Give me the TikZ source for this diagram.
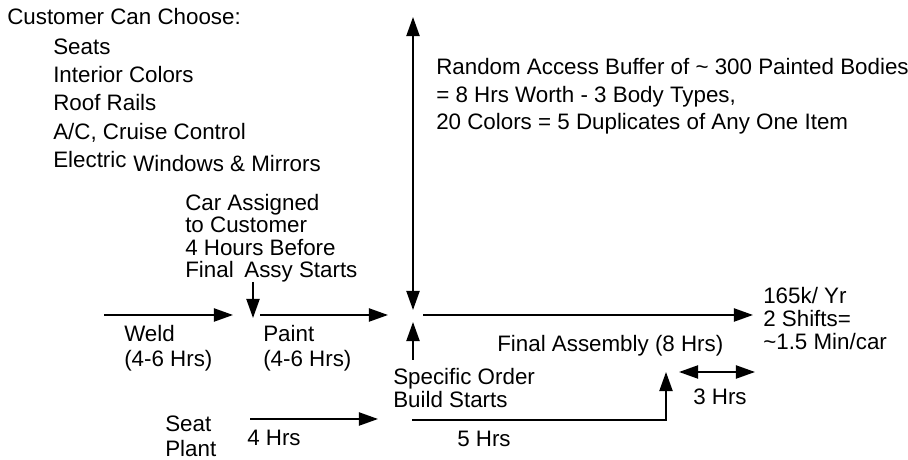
\documentclass[tikz,border=0pt]{standalone}
\usepackage{fontspec}
\setmainfont{Liberation Sans}
\usetikzlibrary{arrows.meta}

\begin{document}
\begin{tikzpicture}[
    font=\fontsize{15.9}{19.9}\selectfont,
    tag/.style={anchor=base west, inner sep=0pt, align=left},
    flow/.style={line width=1.3pt, -{Triangle[length=0.48cm, width=0.33cm]}},
    twoway/.style={line width=1.3pt,
                   {Triangle[length=0.48cm, width=0.33cm]}-{Triangle[length=0.48cm, width=0.33cm]}}
  ]
    \useasboundingbox (0,0) rectangle (22.7,11.5);

    % options list, top left
    \node[tag] (choose) at (0.175,10.875) {Customer Can Choose:};
    \node[tag] (seats) at (1.325,10.125) {Seats};
    \node[tag] (colors) at (1.325,9.425) {Interior Colors};
    \node[tag] (rails) at (1.325,8.725) {Roof Rails};
    \node[tag] (cruise) at (1.325,8.0) {A/C, Cruise Control};
    \node[tag] (electric) at (1.325,7.3) {Electric};
    \node[tag] (windows) at (3.325,7.2) {Windows \& Mirrors};

    % multi-line tags sit on their last baseline
    \node[tag] (buffer) at (10.9,8.25)
      {Random Access Buffer of \textasciitilde{} 300 Painted Bodies\\
       = 8 Hrs Worth - 3 Body Types,\\
       20 Colors = 5 Duplicates of Any One Item};

    \node[tag, font=\fontsize{15.9}{16.1}\selectfont] (assigned) at (4.625,4.55)
      {Car Assigned\\ to Customer\\ 4 Hours Before\\ Final\hspace{0.2em} Assy Starts};

    % main line
    \coordinate (weldin) at (2.6,3.625);
    \coordinate (weldout) at (5.825,3.625);
    \coordinate (paintin) at (6.5,3.625);
    \coordinate (paintout) at (9.7,3.625);
    \coordinate (finalin) at (10.575,3.625);
    \coordinate (finalout) at (18.825,3.625);
    \draw[flow] (weldin) -- (weldout);
    \draw[flow] (paintin) -- (paintout);
    \draw[flow] (finalin) -- (finalout);

    \node[tag, font=\fontsize{15.9}{17.8}\selectfont] (weld) at (3.1,2.325)
      {Weld\\ (4-6 Hrs)};
    \node[tag, font=\fontsize{15.9}{17.8}\selectfont] (paint) at (6.575,2.325)
      {Paint\\ (4-6 Hrs)};
    \node[tag] (final) at (12.425,2.7) {Final Assembly (8 Hrs)};
    \node[tag, font=\fontsize{15.9}{16.7}\selectfont] (rate) at (19.075,2.75)
      {165k/ Yr\\ 2 Shifts=\\ \textasciitilde1.5 Min/car};

    % car assigned to customer
    \coordinate (assigntop) at (6.325,4.45);
    \coordinate (assigntip) at (5.0,3.55);
    \draw[flow] (assigntop) -- (assigntop |- assigntip);

    % buffer, both ways
    \coordinate (buftop) at (10.325,11.075);
    \coordinate (bufbottom) at (10.325,3.75);
    \draw[twoway] (bufbottom) -- (buftop);

    % order starts
    \node[tag, font=\fontsize{15.9}{16.4}\selectfont] (order) at (9.825,1.3)
      {Specific Order\\ Build Starts};
    \coordinate (ordertail) at (10.325,2.5);
    \coordinate (orderhead) at (10.325,3.45);
    \draw[flow] (ordertail) -- (orderhead);

    % seat plant feed
    \node[tag, font=\fontsize{15.9}{17.8}\selectfont] (seatplant) at (4.125,0.075)
      {Seat\\ Plant};
    \coordinate (seatin) at (6.25,1.025);
    \coordinate (seatout) at (9.45,1.025);
    \draw[flow] (seatin) -- (seatout);
    \node[tag] (fourhrs) at (6.175,0.35) {4 Hrs};

    \coordinate (buildin) at (10.3,1.0);
    \coordinate (seatdrop) at (16.65,2.2);
    \draw[flow] (buildin) -| (seatdrop);
    \node[tag] (fivehrs) at (11.425,0.325) {5 Hrs};

    \coordinate (gapleft) at (16.975,2.2);
    \coordinate (gapright) at (18.875,2.2);
    \draw[twoway] (gapleft) -- (gapright);
    \node[tag] (threehrs) at (17.325,1.375) {3 Hrs};
  \end{tikzpicture}
\end{document}
